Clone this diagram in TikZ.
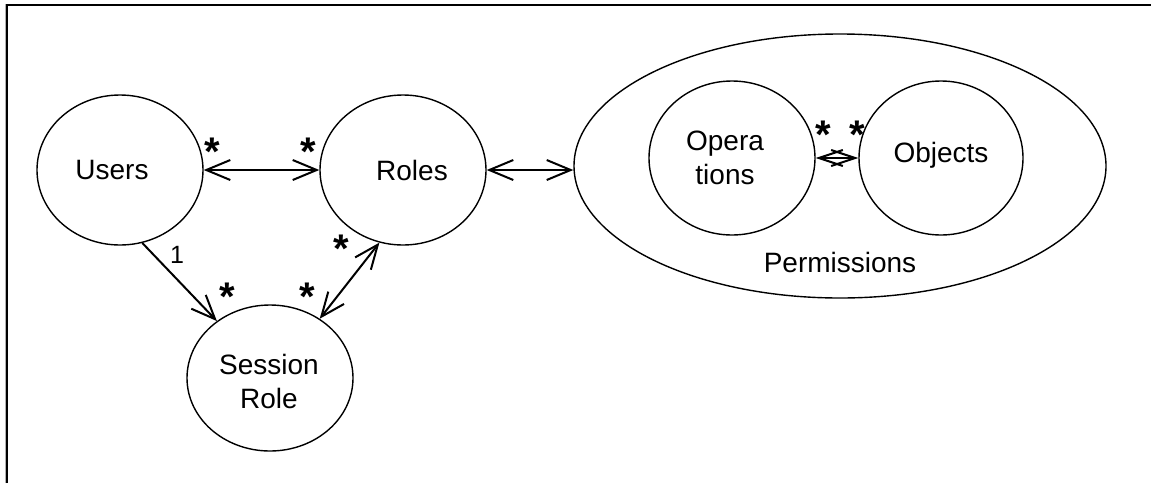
\documentclass[tikz,border=0pt]{standalone}
\usepackage{fontspec}
\setmainfont{Liberation Sans}
\usetikzlibrary{shapes.geometric,arrows.meta}

\begin{document}
\begin{tikzpicture}[x=1pt,y=-1pt,
  entity/.style={draw,line width=1.4pt,ellipse,inner sep=0pt},
  txt/.style={font=\fontsize{28}{34}\selectfont,align=center,inner sep=0pt},
  mult/.style={font=\fontsize{40}{40}\selectfont\bfseries,inner sep=0pt},
  assoc/.style={line width=2pt,{Straight Barb[length=24pt,width=20pt]}-{Straight Barb[length=24pt,width=20pt]}},
  nav/.style={line width=2pt,-{Straight Barb[length=24pt,width=20pt]}},
  smallassoc/.style={line width=2pt,{Straight Barb[length=24pt,width=16pt]}-{Straight Barb[length=24pt,width=16pt]}}]
  \useasboundingbox (0,0) rectangle (1151,483);
  \fill[white] (0,0) rectangle (1151,483);

  % open frame along the top and left
  \draw[gray!60,line width=1pt] (5.5,483) -- (5.5,4);
  \draw[line width=2pt] (7,483) -- (7,5) -- (1151,5);

  % entities
  \node[entity,minimum width=166pt,minimum height=150pt] (users) at (120,170) {};
  \node[entity,minimum width=166pt,minimum height=150pt] (roles) at (403,170) {};
  \node[entity,minimum width=166pt,minimum height=146pt] (session) at (270,378) {};
  \node[entity,minimum width=532pt,minimum height=264pt] (perm) at (840,166) {};
  \node[entity,minimum width=166pt,minimum height=154pt] (ops) at (732,158) {};
  \node[entity,minimum width=164pt,minimum height=154pt] (obj) at (941,158) {};

  % entity names
  \node[txt] (usersT) at (112,170) {Users};
  \node[txt] (rolesT) at (412,170) {Roles};
  \node[txt] (sessionT) at (269,381) {Session\\Role};
  \node[txt] (opsT) at (725,158) {Opera\\tions};
  \node[txt] (objT) at (941,155) {Objects};
  \node[txt] (permT) at (840,262) {Permissions};

  % associations
  \draw[assoc] (users.east) -- (roles.west);
  \draw[assoc] (roles.east) -- (roles.east -| perm.west);
  \draw[smallassoc] (ops.east) -- (obj.west);
  \draw[nav] (users.-73) -- (session.133);
  \draw[assoc] (roles.-108) -- (session.50);

  % multiplicities
  \node[mult] (m1) at (212,152) {*};
  \node[mult] (m2) at (308,152) {*};
  \node[mult] (m3) at (227,297) {*};
  \node[mult] (m4) at (307,297) {*};
  \node[mult] (m5) at (341,249) {*};
  \node[mult] (m6) at (823,135) {*};
  \node[mult] (m7) at (857,135) {*};
  \node[txt,font=\fontsize{25}{25}\selectfont] (one) at (177,255) {1};
\end{tikzpicture}
\end{document}
